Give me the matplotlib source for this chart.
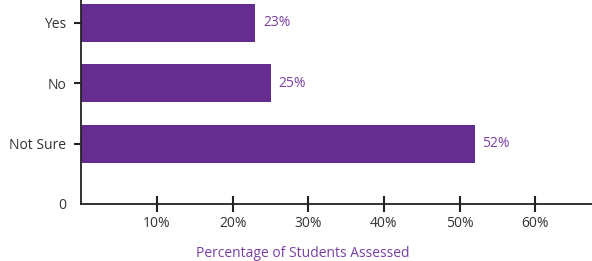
import matplotlib.pyplot as plt

categories = ['Not Sure', 'No', 'Yes']
values = [52, 25, 23]
positions = [1, 2, 3]
bar_labels = ['52%', '25%', '23%']
xticks = [10, 20, 30, 40, 50, 60]

plt.rcParams['font.family'] = ['Open Sans', 'DejaVu Sans']

fig = plt.figure(figsize=(5.92, 2.61), dpi=100)
ax = fig.add_axes([0.1375, 0.2184, 0.8625, 0.7816])

bar_color = '#652d90'
text_color = '#7b3fa3'

ax.barh(positions, values, height=0.63, color=bar_color)
for p, v, lab in zip(positions, values, bar_labels):
    ax.text(v + 1.0, p, lab, va='center', ha='left', color=text_color, fontsize=10)

ax.set_xlim(0, 67.5)
ax.set_ylim(0, 3.38)
ax.set_yticks([0] + positions)
ax.set_yticklabels(['0'] + categories, fontsize=10, color='#333333')
ax.set_xticks(xticks)
ax.set_xticklabels([f'{t}%' for t in xticks], fontsize=10, color='#333333')

ax.spines['top'].set_visible(False)
ax.spines['right'].set_visible(False)
for s in ['left', 'bottom']:
    ax.spines[s].set_linewidth(1.3)
    ax.spines[s].set_color('#222222')

ax.tick_params(axis='x', direction='inout', length=11, width=1.5, color='#222222', pad=3)
ax.tick_params(axis='y', direction='out', length=5, width=1.5, color='#222222', pad=6)
ax.yaxis.get_major_ticks()[0].tick1line.set_visible(False)

ax.set_xlabel('Percentage of Students Assessed', color=text_color, fontsize=10, va='center')
ax.xaxis.set_label_coords((303 - 81) / 511, -0.245)

plt.savefig('out.png', dpi=100)
